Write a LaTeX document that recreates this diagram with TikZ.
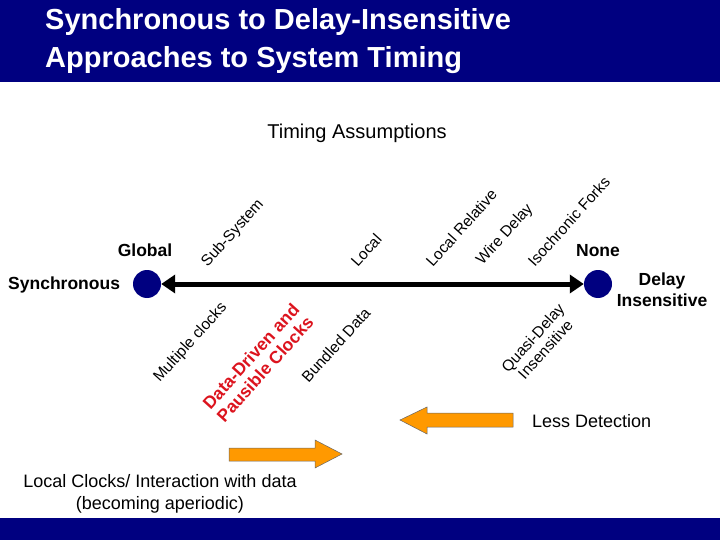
\documentclass[tikz,border=0pt]{standalone}
\usepackage{fontspec}
\setmainfont{Liberation Sans}
\usetikzlibrary{arrows.meta}
\definecolor{navy}{RGB}{0,0,128}
\definecolor{orng}{RGB}{255,153,0}
\definecolor{redt}{RGB}{220,20,30}
\begin{document}
\begin{tikzpicture}[x=1pt,y=-1pt,
  lab/.style={font=\fontsize{15.5}{17}\selectfont,rotate=48,inner sep=0pt},
  above lab/.style={lab,anchor=south west},
  below lab/.style={lab,anchor=north east},
  txt/.style={font=\fontsize{18}{20}\selectfont,inner sep=0pt},
  btxt/.style={font=\bfseries\fontsize{17.5}{21}\selectfont,inner sep=0pt},
  dot/.style={circle,fill=navy,minimum size=28pt,inner sep=0pt},
  oarrow/.style={fill=orng,draw=black!60,line width=0.5pt}]
\useasboundingbox (0,0) rectangle (720,540);
\fill[navy] (0,0) rectangle (720,82);
\fill[navy] (0,518) rectangle (720,540);
\node[anchor=west,text=white,align=left,font=\bfseries\fontsize{29}{38}\selectfont,inner sep=0pt] (title) at (45,41) {Synchronous to Delay-Insensitive\\Approaches to System Timing};
\node[txt,font=\fontsize{20}{22}\selectfont] (ta) at (357,133) {Timing Assumptions};
\node[dot] (l) at (147,284) {};
\node[dot] (r) at (598,284) {};
\draw[line width=5pt,{Triangle[length=14pt,width=18pt]}-{Triangle[length=14pt,width=18pt]}] (l.east) -- (r.west);
\node[btxt] (glob) at (145,250) {Global};
\node[btxt] (none) at (598,251) {None};
\node[btxt,anchor=west] (sync) at (8,285) {Synchronous};
\node[btxt,align=center] (di) at (662,290) {Delay\\Insensitive};
\node[above lab] (ss) at (210,270) {Sub-System};
\node[above lab] (lo) at (358,268) {Local};
\node[above lab] (lr) at (433,268) {Local Relative};
\node[above lab] (wd) at (485,268) {Wire Delay};
\node[above lab] (if) at (535,268) {Isochronic Forks};
\node[below lab] (mc) at (219,300) {Multiple clocks};
\node[below lab,align=center,text=redt,font=\bfseries\fontsize{17.5}{19}\selectfont] (dd) at (291,302) {Data-Driven and\\Pausible Clocks};
\node[below lab] (bd) at (363,306) {Bundled Data};
\node[below lab,align=center] (qd) at (557,302) {Quasi-Delay\\Insensitive};
\draw[oarrow] (400,420) -- (427,407) -- (427,413) -- (513,413) -- (513,427) -- (427,427) -- (427,434) -- cycle;
\draw[oarrow] (342,454) -- (315,440) -- (315,448) -- (229,448) -- (229,461) -- (315,461) -- (315,468) -- cycle;
\node[txt,anchor=west] (ld) at (532,421) {Less Detection};
\node[txt,align=center,font=\fontsize{18}{22}\selectfont] (lc) at (160,494) {Local Clocks/ Interaction with data\\(becoming aperiodic)};
\end{tikzpicture}
\end{document}
